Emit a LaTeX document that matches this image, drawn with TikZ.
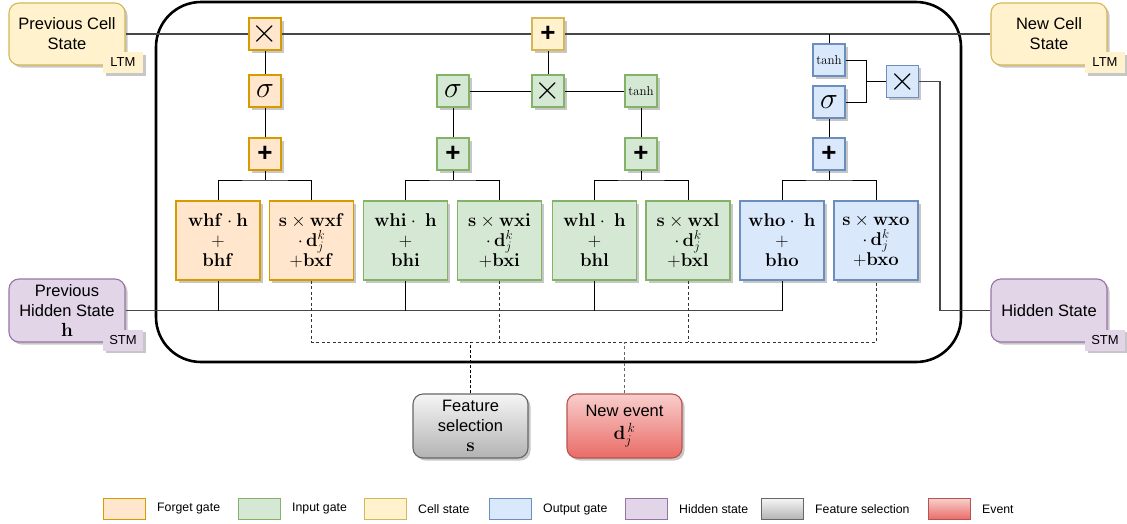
\RequirePackage{fix-cm}
\documentclass[tikz,border=0pt]{standalone}
\usepackage[no-math]{fontspec}
\setmainfont{Liberation Sans}
\usetikzlibrary{shadows,calc}
\definecolor{fgF}{HTML}{FFE6CC}\definecolor{fgD}{HTML}{D79B00}
\definecolor{inF}{HTML}{D5E8D4}\definecolor{inD}{HTML}{82B366}
\definecolor{csF}{HTML}{FFF2CC}\definecolor{csD}{HTML}{D6B656}
\definecolor{ouF}{HTML}{DAE8FC}\definecolor{ouD}{HTML}{6C8EBF}
\definecolor{hsF}{HTML}{E1D5E7}\definecolor{hsD}{HTML}{9673A6}
\definecolor{fsT}{HTML}{F5F5F5}\definecolor{fsB}{HTML}{B3B3B3}\definecolor{fsD}{HTML}{666666}
\definecolor{evT}{HTML}{F8CECC}\definecolor{evB}{HTML}{EA6B66}\definecolor{evD}{HTML}{B85450}
\newcommand{\lgmath}[1]{{\fontsize{19}{20}\selectfont$#1$}}
\begin{document}
\begin{tikzpicture}[x=1pt,y=-1pt,
  shd/.style={drop shadow={shadow xshift=2.5pt,shadow yshift=-2.5pt,fill=black,opacity=0.22}},
  box/.style={draw,line width=1.1pt,inner sep=0pt,align=center,shd},
  opbox/.style={box,minimum width=32pt,minimum height=32pt},
  mbox/.style={box,minimum width=84pt,minimum height=79pt,font=\fontsize{18.5}{20}\selectfont},
  bigbox/.style={box,rounded corners=10pt,minimum width=116pt,minimum height=62pt,font=\fontsize{16.5}{20}\selectfont},
  tagbox/.style={inner sep=0pt,minimum width=40pt,minimum height=21pt,font=\fontsize{13}{15}\selectfont,shd},
  fg/.style={fill=fgF,draw=fgD},
  ig/.style={fill=inF,draw=inD},
  cg/.style={fill=csF,draw=csD},
  og/.style={fill=ouF,draw=ouD},
  hg/.style={fill=hsF,draw=hsD},
  timesT/.style={font=\fontsize{34}{34}\selectfont},
  sigT/.style={font=\fontsize{30}{30}\selectfont},
  plusT/.style={font=\fontsize{26}{26}\selectfont\bfseries},
  tanhT/.style={font=\fontsize{13}{13}\selectfont},
  cline/.style={line width=1.2pt,draw=black!72},
  wire/.style={line width=0.9pt,draw=black},
  dline/.style={line width=0.9pt,draw=black!80,dash pattern=on 3pt off 2.5pt},
  legbox/.style={draw,line width=0.9pt,minimum width=42pt,minimum height=21pt,inner sep=0pt},
  legtxt/.style={anchor=west,font=\fontsize{12.3}{14}\selectfont,inner sep=0pt}
]
\useasboundingbox (0,0) rectangle (1127,523);
% main cell frame
\draw[line width=2.6pt,rounded corners=45pt] (156,2) rectangle (961,362);

% outer state boxes
\node[bigbox,cg] (pcs) at (67,34) {Previous Cell\\State};
\node[tagbox,fill=csF] (ltmA) at (123,62.5) {LTM};
\node[bigbox,cg] (ncs) at (1049,34) {New Cell\\State};
\node[tagbox,fill=csF] (ltmB) at (1105,62.5) {LTM};
\node[bigbox,hg,minimum height=63pt] (phs) at (67,310.5) {Previous\\Hidden State\\\lgmath{\mathbf{h}}};
\node[tagbox,fill=hsF] (stmA) at (123,340) {STM};
\node[bigbox,hg,minimum height=63pt] (hs) at (1049,310.5) {Hidden State};
\node[tagbox,fill=hsF] (stmB) at (1105,340) {STM};

% forget gate
\node[opbox,fg,timesT] (fx) at (265,34) {$\times$};
\node[opbox,fg,sigT] (fs) at (265,91) {$\sigma$};
\node[opbox,fg,plusT] (fp) at (265,154) {+};
\node[mbox,fg] (whf) at (218,240.5) {$\mathbf{whf}\cdot\mathbf{h}$\\$+$\\$\mathbf{bhf}$};
\node[mbox,fg] (wxf) at (311.5,240.5) {$\mathbf{s}\times\mathbf{wxf}$\\$\cdot\,\mathbf{d}_j^k$\\$+\mathbf{bxf}$};

% input gate
\node[opbox,cg,plusT] (cp) at (548,34) {+};
\node[opbox,ig,sigT] (is) at (453,91) {$\sigma$};
\node[opbox,ig,timesT] (ix) at (548,91) {$\times$};
\node[opbox,ig,tanhT] (it) at (641,91) {$\tanh$};
\node[opbox,ig,plusT] (ip) at (453,154) {+};
\node[opbox,ig,plusT] (lp) at (641,154) {+};
\node[mbox,ig] (whi) at (405.5,240.5) {$\mathbf{whi}\cdot\ \mathbf{h}$\\$+$\\$\mathbf{bhi}$};
\node[mbox,ig] (wxi) at (499.5,240.5) {$\mathbf{s}\times\mathbf{wxi}$\\$\cdot\,\mathbf{d}_j^k$\\$+\mathbf{bxi}$};
\node[mbox,ig] (whl) at (594.5,240.5) {$\mathbf{whl}\cdot\ \mathbf{h}$\\$+$\\$\mathbf{bhl}$};
\node[mbox,ig] (wxl) at (688,240.5) {$\mathbf{s}\times\mathbf{wxl}$\\$\cdot\,\mathbf{d}_j^k$\\$+\mathbf{bxl}$};

% output gate
\node[opbox,og,tanhT] (ot) at (829,60) {$\tanh$};
\node[opbox,og,sigT] (os) at (829,102) {$\sigma$};
\node[opbox,og,timesT] (ox) at (902.5,81.5) {$\times$};
\node[opbox,og,plusT] (op) at (829,154) {+};
\node[mbox,og] (who) at (782,240.5) {$\mathbf{who}\cdot\ \mathbf{h}$\\$+$\\$\mathbf{bho}$};
\node[mbox,og] (wxo) at (876,240.5) {$\mathbf{s}\times\mathbf{wxo}$\\$\cdot\,\mathbf{d}_j^k$\\$+\mathbf{bxo}$};

% inputs below
\node[box,rounded corners=10pt,minimum width=115pt,minimum height=64pt,draw=fsD,top color=fsT,bottom color=fsB,font=\fontsize{16.5}{20}\selectfont] (fsel) at (470.5,426) {Feature\\selection\\\lgmath{\mathbf{s}}};
\node[box,rounded corners=10pt,minimum width=115pt,minimum height=64pt,draw=evD,top color=evT,bottom color=evB,font=\fontsize{16.5}{20}\selectfont] (ev) at (624.5,426) {New event\\[3pt]\lgmath{\mathbf{d}_{j}^{\,k}}};

\coordinate (brk) at (0,180);
\coordinate (dashy) at (0,342);

% cell state line
\draw[cline] (pcs.east) -- (fx.west);
\draw[cline] (fx.east) -- (cp.west);
\draw[cline] (cp.east) -- (ncs.west);
\draw[wire] (ot.north) -- (ot.north |- pcs.east);

% forget wiring
\draw[wire] (fx.south) -- (fs.north);
\draw[wire] (fs.south) -- (fp.north);
\draw[wire] (fp.south) -- (fp.south |- brk);
\draw[wire] (whf.north) |- (fp.south |- brk) -| (wxf.north);

% input wiring
\draw[wire] (is.south) -- (ip.north);
\draw[wire] (ip.south) -- (ip.south |- brk);
\draw[wire] (whi.north) |- (ip.south |- brk) -| (wxi.north);
\draw[wire] (is.east) -- (ix.west);
\draw[wire] (ix.east) -- (it.west);
\draw[wire] (ix.north) -- (cp.south);
\draw[wire] (it.south) -- (lp.north);
\draw[wire] (lp.south) -- (lp.south |- brk);
\draw[wire] (whl.north) |- (lp.south |- brk) -| (wxl.north);

% output wiring
\draw[wire] (op.north) -- (os.south);
\draw[wire] (op.south) -- (op.south |- brk);
\draw[wire] (who.north) |- (op.south |- brk) -| (wxo.north);
\coordinate (oj) at (866,81.5);
\draw[wire] (ot.east) -| (oj);
\draw[wire] (os.east) -| (oj);
\draw[wire] (oj) -- (ox.west);
\draw[cline] (ox.east) -- ++(21,0) |- (hs.west);

% hidden state line
\draw[cline] (phs.east) -- (who.south |- phs.east);
\foreach \n in {whf,whi,whl,who} \draw[wire] (\n.south) -- (\n.south |- phs.east);

% dashed feature / event lines
\draw[dline] (wxf.south) |- (wxo.south |- dashy) -- (wxo.south);
\foreach \n in {wxi,wxl} \draw[dline] (\n.south) -- (\n.south |- dashy);
\draw[dline,line width=1.6pt,draw=black,dash pattern=on 3pt off 2pt] (fsel.north) -- (fsel.north |- dashy);
\draw[dline,draw=black!60] (ev.north) -- (ev.north |- dashy);

% legend
\node[legbox,fg] (l1) at (124,509) {};
\node[legtxt] (t1) at (157,509) {Forget gate};
\node[legbox,ig] (l2) at (259,509) {};
\node[legtxt] (t2) at (292,509) {Input gate};
\node[legbox,cg] (l3) at (385,509) {};
\node[legtxt] (t3) at (418,509) {Cell state};
\node[legbox,og] (l4) at (510.5,509) {};
\node[legtxt] (t4) at (543,509) {Output gate};
\node[legbox,hg] (l5) at (646.5,509) {};
\node[legtxt] (t5) at (679,509) {Hidden state};
\node[legbox,draw=fsD,top color=fsT,bottom color=fsB] (l6) at (782,509) {};
\node[legtxt] (t6) at (815,509) {Feature selection};
\node[legbox,draw=evD,top color=evT,bottom color=evB] (l7) at (949.5,509) {};
\node[legtxt] (t7) at (982,509) {Event};
\end{tikzpicture}
\end{document}
